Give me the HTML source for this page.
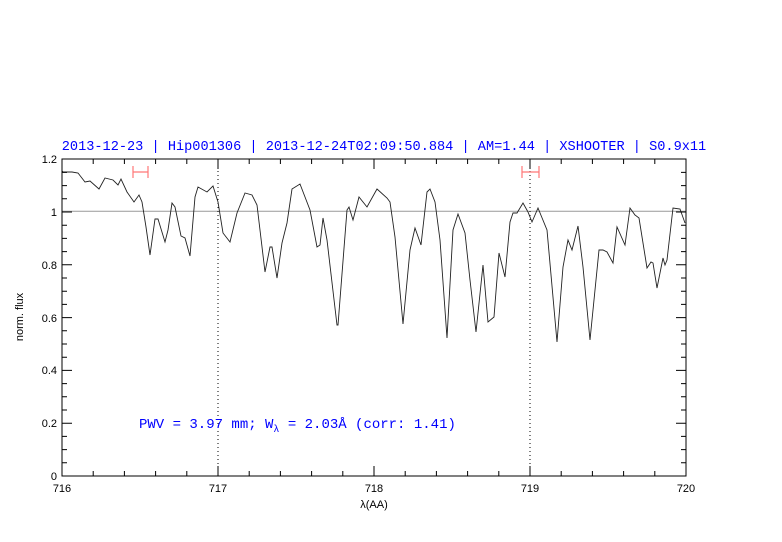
<!DOCTYPE html>
<html><head><meta charset="utf-8"><style>body{margin:0;background:#fff}svg{display:block}</style></head><body>
<svg width="782" height="542" xmlns="http://www.w3.org/2000/svg" font-family="Liberation Sans, sans-serif">
<rect width="782" height="542" fill="#fff"/>
<text x="384" y="150" text-anchor="middle" fill="#0000ff" font-family="Liberation Mono, monospace" font-size="13.6">2013-12-23 | Hip001306 | 2013-12-24T02:09:50.884 | AM=1.44 | XSHOOTER | S0.9x11</text>
<line x1="62" y1="211.2" x2="686" y2="211.2" stroke="#999" stroke-width="1"/>
<line x1="218" y1="159" x2="218" y2="476" stroke="#000" stroke-dasharray="1,3"/>
<line x1="530" y1="159" x2="530" y2="476" stroke="#000" stroke-dasharray="1,3"/>
<g stroke="#f77" stroke-width="1.2" fill="none">
<path d="M133 172H148M133 166V178M148 166V178"/>
<path d="M522 172H539M522 166V178M539 166V178"/>
</g>
<polyline fill="none" stroke="#222" stroke-width="0.9" points="62,171 63,172 72,172 78,173 85,182 90,181 99,189 105,178 113,180 118,185 121,179 127,192 134,202 139,195 142,202 146,227 150,255 155,219 158,219 165,242 168,230 172,203 175,207 181,236 185,238 190,256 195,197 198,187 207,192 213,186 218,202 223,233 230,242 237,213 245,193 252,195 257,205 265,272 270,247 272,247 277,278 282,243 287,223 292,189 300,184 310,210 317,247 320,245 323,218 327,240 337,325 338,325 347,210 349,207 353,220 359,197 367,207 377,189 387,198 390,202 395,237 403,324 410,250 415,228 421,245 427,192 430,189 435,202 440,240 447,338 453,230 458,214 465,233 470,280 476,332 483,265 488,322 494,317 499,253 505,277 510,222 513,213 517,213 523,203 528,212 532,222 538,208 547,230 557,342 563,267 568,240 572,250 578,226 583,267 590,340 599,250 603,250 607,252 613,263 617,227 625,245 630,208 635,215 639,218 647,268 651,262 653,263 657,288 663,258 665,265 667,260 673,208 680,209 685,223"/>
<rect x="62" y="159" width="624" height="317" fill="none" stroke="#000" stroke-width="1"/>
<g stroke="#000" stroke-width="1">
<path d="M93.2 476v-5M124.4 476v-5M155.6 476v-5M186.8 476v-5M249.2 476v-5M280.4 476v-5M311.6 476v-5M342.8 476v-5M405.2 476v-5M436.4 476v-5M467.6 476v-5M498.8 476v-5M561.2 476v-5M592.4 476v-5M623.6 476v-5M654.8 476v-5M218 476v-10M374 476v-10M530 476v-10"/>
<path d="M93.2 159v5M124.4 159v5M155.6 159v5M186.8 159v5M249.2 159v5M280.4 159v5M311.6 159v5M342.8 159v5M405.2 159v5M436.4 159v5M467.6 159v5M498.8 159v5M561.2 159v5M592.4 159v5M623.6 159v5M654.8 159v5M218 159v10M374 159v10M530 159v10"/>
<path d="M62 462.8h5M62 449.6h5M62 436.4h5M62 410h5M62 396.8h5M62 383.6h5M62 357.2h5M62 344h5M62 330.8h5M62 304.4h5M62 291.2h5M62 278h5M62 251.6h5M62 238.4h5M62 225.2h5M62 198.8h5M62 185.6h5M62 172.4h5M62 423.2h10M62 370.4h10M62 317.6h10M62 264.8h10M62 212h10"/>
<path d="M686 462.8h-5M686 449.6h-5M686 436.4h-5M686 410h-5M686 396.8h-5M686 383.6h-5M686 357.2h-5M686 344h-5M686 330.8h-5M686 304.4h-5M686 291.2h-5M686 278h-5M686 251.6h-5M686 238.4h-5M686 225.2h-5M686 198.8h-5M686 185.6h-5M686 172.4h-5M686 423.2h-10M686 370.4h-10M686 317.6h-10M686 264.8h-10M686 212h-10"/>
</g>
<g font-size="11" fill="#000" text-anchor="middle">
<text x="62" y="492">716</text><text x="218" y="492">717</text><text x="374" y="492">718</text><text x="530" y="492">719</text><text x="686" y="492">720</text>
<text x="374" y="508">λ(AA)</text>
</g>
<g font-size="11" fill="#000" text-anchor="end">
<text x="57" y="480">0</text><text x="57" y="427">0.2</text><text x="57" y="374">0.4</text><text x="57" y="322">0.6</text><text x="57" y="269">0.8</text><text x="57" y="216">1</text><text x="57" y="163">1.2</text>
</g>
<text transform="translate(23,317) rotate(-90)" font-size="11" text-anchor="middle">norm. flux</text>
<text x="139" y="428" fill="#0000ff" font-family="Liberation Mono, monospace" font-size="14">PWV = 3.97 mm; W<tspan font-size="10" dy="4">λ</tspan><tspan dy="-4"> = 2.03Å (corr: 1.41)</tspan></text>
</svg>
</body></html>
